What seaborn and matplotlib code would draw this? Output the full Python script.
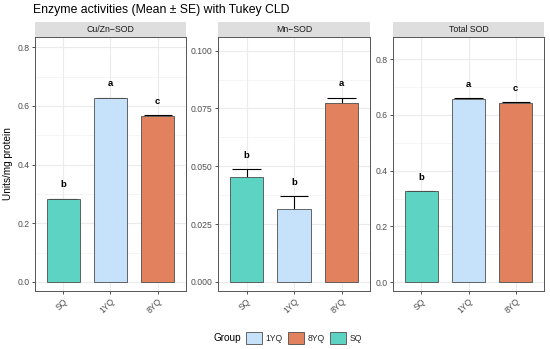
import matplotlib
matplotlib.use("Agg")
import matplotlib.pyplot as plt
from matplotlib.patches import Patch
import seaborn as sns
import pandas as pd
import numpy as np

groups = ["SQ", "1YQ", "8YQ"]
legend_order = ["1YQ", "8YQ", "SQ"]
colors = {"SQ": "#5DD3C4", "1YQ": "#C6E2FB", "8YQ": "#E2815E"}

panels = ["Cu/Zn\u2212SOD", "Mn\u2212SOD", "Total SOD"]
cuzn_mean = [0.281, 0.626, 0.566]
cuzn_se = [0.003, 0.002, 0.002]
cuzn_cld = ["b", "a", "c"]
mn_mean = [0.0455, 0.0316, 0.0775]
mn_se = [0.0032, 0.0056, 0.0022]
mn_cld = ["b", "b", "a"]
tot_mean = [0.326, 0.657, 0.644]
tot_se = [0.002, 0.003, 0.001]
tot_cld = ["b", "a", "c"]

ylims = [(-0.031, 0.835), (-0.0039, 0.1059), (-0.032, 0.880)]
yticks = [[0.0, 0.2, 0.4, 0.6, 0.8],
          [0.0, 0.025, 0.05, 0.075, 0.1],
          [0.0, 0.2, 0.4, 0.6, 0.8]]
yticklabels = [["0.0", "0.2", "0.4", "0.6", "0.8"],
               ["0.000", "0.025", "0.050", "0.075", "0.100"],
               ["0.0", "0.2", "0.4", "0.6", "0.8"]]

sns.set_theme(style="white")
plt.rcParams["font.family"] = ["Liberation Sans", "DejaVu Sans"]

W, H = 550, 349
fig = plt.figure(figsize=(W / 100, H / 100), dpi=100)

xs = [(35, 186), (218, 370), (393, 544)]
ptop, pbot = 37, 291
stop = 22

datasets = [(cuzn_mean, cuzn_se, cuzn_cld), (mn_mean, mn_se, mn_cld), (tot_mean, tot_se, tot_cld)]

for i, ((x0, x1), (m, se, cld)) in enumerate(zip(xs, datasets)):
    ax = fig.add_axes([x0 / W, 1 - pbot / H, (x1 - x0) / W, (pbot - ptop) / H])
    df = pd.DataFrame({"Group": groups, "mean": m, "se": se})
    lo, hi = ylims[i]
    rng = hi - lo
    for j, g in enumerate(groups):
        top = m[j] + se[j]
        ax.vlines(j, m[j], top, color="black", lw=0.8, zorder=1)
        ax.hlines(top, j - 0.3, j + 0.3, color="black", lw=0.8, zorder=1)
    sns.barplot(data=df, x="Group", y="mean", hue="Group", order=groups,
                hue_order=groups, palette=colors, dodge=False, width=0.7,
                saturation=1, edgecolor="#4D4D4D", linewidth=0.6, legend=False,
                ax=ax, zorder=2)
    for j, g in enumerate(groups):
        ax.text(j, m[j] + se[j] + 0.054 * rng, cld[j], ha="center", va="center",
                fontsize=6.8, fontweight="bold", color="black", zorder=4)
    ax.set_xlim(-0.6, 2.6)
    ax.set_ylim(lo, hi)
    ax.set_yticks(yticks[i])
    ax.set_yticklabels(yticklabels[i])
    mt = yticks[i]
    step = mt[1] - mt[0]
    minors = [t + step / 2 for t in mt[:-1]]
    for mval in minors:
        ax.axhline(mval, color="#F2F2F2", lw=0.5, zorder=0)
    for t in mt:
        ax.axhline(t, color="#EBEBEB", lw=0.8, zorder=0)
    for j in range(3):
        ax.axvline(j, color="#EBEBEB", lw=0.8, zorder=0)
    ax.set_xlabel("")
    ax.set_ylabel("Units/mg protein" if i == 0 else "", fontsize=7.2, color="black", labelpad=3)
    ax.tick_params(axis="both", length=2.5, width=0.6, color="#333333",
                   labelsize=6.2, labelcolor="#4D4D4D", pad=1.5, bottom=True, left=True)
    for lab in ax.get_xticklabels():
        lab.set_rotation(45)
        lab.set_ha("right")
        lab.set_rotation_mode("anchor")
    for s in ax.spines.values():
        s.set_color("#555555")
        s.set_linewidth(0.7)
    ax.set_facecolor("white")
    sax = fig.add_axes([x0 / W, 1 - ptop / H, (x1 - x0) / W, (ptop - stop) / H])
    sax.set_facecolor("#DEDEDE")
    sax.set_xticks([])
    sax.set_yticks([])
    for s in sax.spines.values():
        s.set_visible(False)
    sax.text(0.5, 0.5, panels[i], ha="center", va="center", fontsize=6.3,
             color="#1A1A1A", transform=sax.transAxes)

fig.text(33 / W, 1 - 10 / H, "Enzyme activities (Mean \u00b1 SE) with Tukey CLD",
         ha="left", va="center", fontsize=8.8, color="black")

fig.text(213 / W, 1 - 338 / H, "Group", ha="left", va="center", fontsize=7.2, color="black")
handles = [Patch(facecolor=colors[g], edgecolor="#4D4D4D", linewidth=0.6, label=g)
           for g in legend_order]
fig.legend(handles=handles, loc="center left", bbox_to_anchor=(246 / W, 1 - 338 / H),
           ncol=3, frameon=False, fontsize=6.2, handlelength=1.8, handleheight=1.8,
           handletextpad=0.5, columnspacing=0.6, borderpad=0, borderaxespad=0)

fig.savefig("out.png", dpi=100)
